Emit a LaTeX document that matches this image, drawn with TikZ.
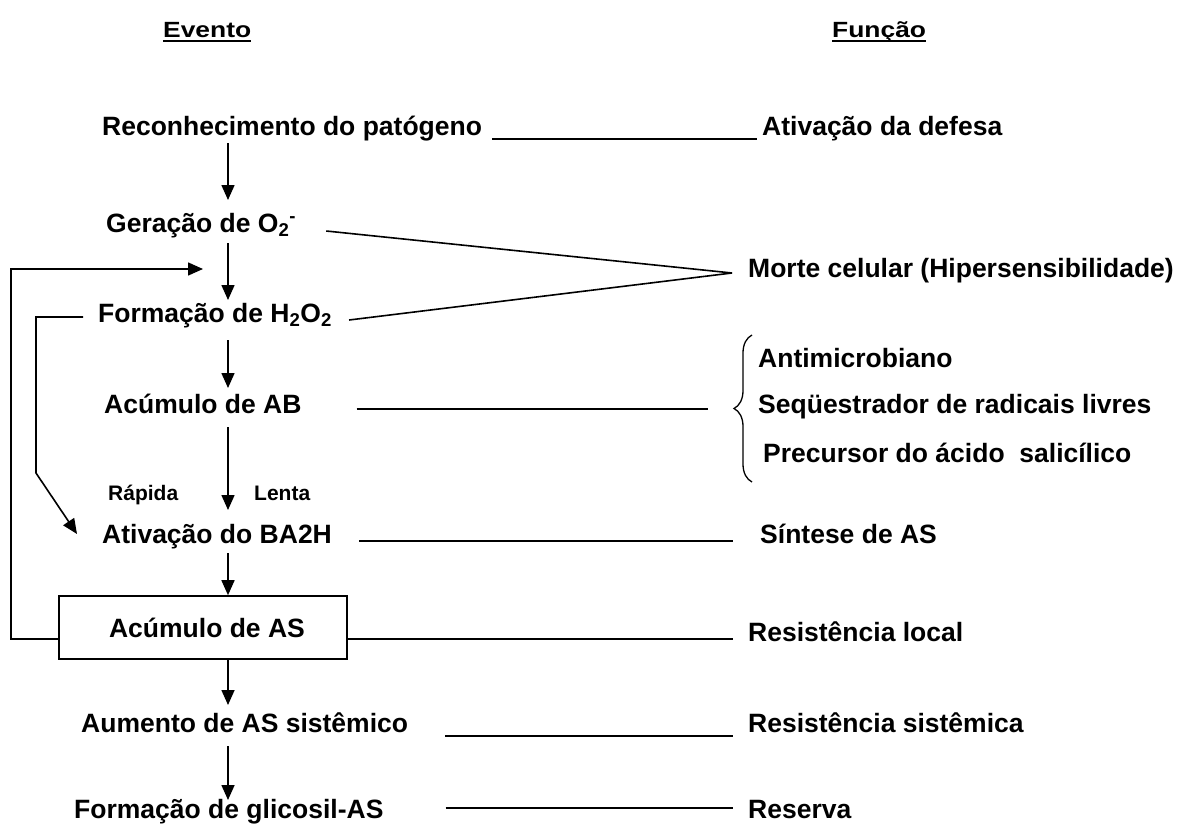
\documentclass[tikz,border=0pt]{standalone}
\usepackage{fontspec}
\setmainfont{Liberation Sans}
\newfontfamily\titlefont{Liberation Sans}[FakeStretch=1.2]
\usetikzlibrary{arrows.meta,calc,decorations.pathreplacing}

\tikzset{
  evento/.style={anchor=base west, inner sep=0pt, font=\fontsize{26.5}{30}\selectfont\bfseries},
  funcao/.style={evento},
  titulo/.style={anchor=base west, inner sep=0pt, font=\titlefont\fontsize{22}{25}\selectfont\bfseries},
  via/.style={anchor=base west, inner sep=0pt, font=\fontsize{21}{24}\selectfont\bfseries},
  caixa/.style={draw, line width=1.6pt, inner sep=0pt, minimum width=288pt, minimum height=63pt,
    text height=19pt, text depth=0pt, font=\fontsize{26.5}{30}\selectfont\bfseries},
  flow/.style={line width=1.6pt, -{Triangle[length=15pt,width=13pt]}},
  link/.style={line width=1.6pt},
}

\begin{document}
\begin{tikzpicture}[x=1pt, y=-1pt]
\useasboundingbox (0,0) rectangle (1178,827);

% titulos
\node[titulo] (hev) at (163,37) {Evento};
\node[titulo] (hfu) at (832,37) {Função};
\draw[line width=2.7pt] ([yshift=-4pt]hev.base west) -- ([yshift=-4pt]hev.base east);
\draw[line width=2.7pt] ([yshift=-4pt]hfu.base west) -- ([yshift=-4pt]hfu.base east);

% eventos
\node[evento] (rec) at (102,135) {Reconhecimento do patógeno};
\node[evento] (ger) at (106,232) {Geração de O\textsubscript{2}\textsuperscript{-}};
\node[evento] (frm) at (98,322) {Formação de H\textsubscript{2}O\textsubscript{2}};
\node[evento] (ab) at (104,413) {Acúmulo de AB};
\node[via] (rap) at (108,500) {Rápida};
\node[via] (len) at (254,500) {Lenta};
\node[evento] (ba) at (102,543) {Ativação do BA2H};
\node[caixa] (box) at (203,627.5) {\hspace*{8pt}Acúmulo de AS};
\node[evento] (aum) at (81,732) {Aumento de AS sistêmico};
\node[evento] (gli) at (74,818) {Formação de glicosil-AS};

% funcoes
\node[funcao] (atv) at (762,135) {Ativação da defesa};
\node[funcao] (mor) at (748,277) {Morte celular (Hipersensibilidade)};
\node[funcao] (ant) at (758,367) {Antimicrobiano};
\node[funcao] (seq) at (758,413) {Seqüestrador de radicais livres};
\node[funcao] (pre) at (763,462) {Precursor do ácido\ \ salicílico};
\node[funcao] (sin) at (760,543) {Síntese de AS};
\node[funcao] (rlo) at (748,641) {Resistência local};
\node[funcao] (rsi) at (748,732) {Resistência sistêmica};
\node[funcao] (res) at (748,818) {Reserva};

% fluxo principal
\coordinate (ax) at (228,0);
\draw[flow] ($(rec.base -| ax)+(0,8)$) -- ($(ger.base -| ax)+(0,-32)$);
\draw[flow] ($(ger.base -| ax)+(0,11)$) -- ($(frm.base -| ax)+(0,-22)$);
\draw[flow] ($(frm.base -| ax)+(0,18)$) -- ($(ab.base -| ax)+(0,-25)$);
\draw[flow] ($(ab.base -| ax)+(0,14)$) -- ($(ba.base -| ax)+(0,-33)$);
\draw[flow] ($(ba.base -| ax)+(0,10)$) -- (box.north -| ax);
\draw[flow] (box.south -| ax) -- ($(aum.base -| ax)+(0,-27)$);
\draw[flow] ($(aum.base -| ax)+(0,14)$) -- ($(gli.base -| ax)+(0,-18)$);

% retroalimentacao
\coordinate (fb) at (203,269);
\draw[flow] ([yshift=-11.5pt]box.west) -- ++(-47,0) |- (fb);
\draw[flow] ([xshift=-15pt,yshift=5pt]frm.base west) -- ++(-47,0) -- ++(0,156)
  -- ([xshift=-25pt,yshift=9pt]ba.base west);

% ligacoes evento - funcao
\coordinate (hr) at ([xshift=-16pt,yshift=4pt]mor.base west);
\draw[link] ($(rec.base east)+(10,4)$) -- ($(atv.base west)+(-5,4)$);
\draw[link] ($(ger.base east)+(30,-1)$) -- (hr);
\draw[link] ($(frm.base east)+(17,-2)$) -- (hr);
\draw[link] ($(ab.base east)+(55,-4)$) -- ($(seq.base west)+(-50,-4)$);
\draw[link] ($(ba.base east)+(27,-2)$) -- ($(sin.base west)+(-27,-2)$);
\draw[link] ([yshift=-11.5pt]box.east) -- ($(rlo.base west)+(-15,-2)$);
\draw[link] ($(aum.base east)+(37,4)$) -- ($(rsi.base west)+(-15,4)$);
\draw[link] ($(gli.base east)+(62,-10)$) -- ($(res.base west)+(-15,-10)$);

% chave
\draw[line width=1.3pt, decorate, decoration={brace, amplitude=18pt}] (752,482) -- (752,335);
\end{tikzpicture}
\end{document}
